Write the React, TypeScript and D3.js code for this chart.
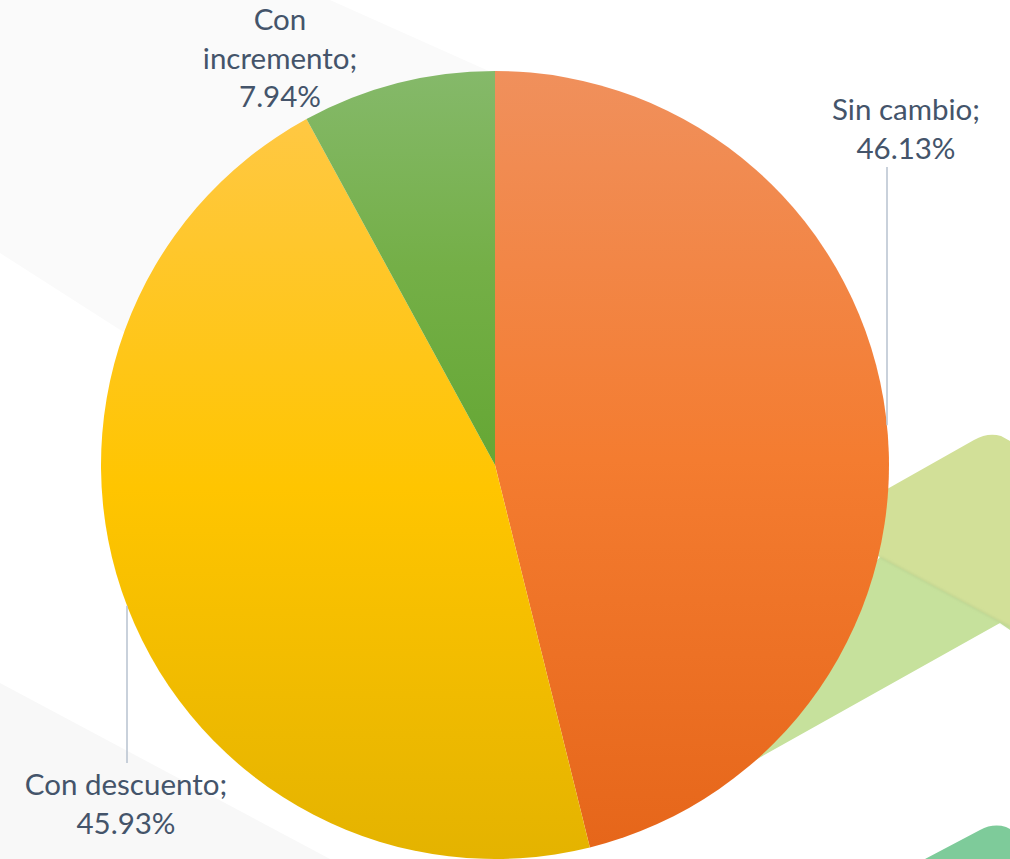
import React from "react";
import * as d3 from "d3";

const categories = ["Sin cambio", "Con descuento", "Con incremento"];
const values = [46.13, 45.93, 7.94];
const valueLabels = ["46.13%", "45.93%", "7.94%"];

const W = 1010;
const H = 859;
const CX = 495;
const CY = 465;
const R = 394;

const gradStops: Record<string, [string, string, string]> = {
  "Sin cambio": ["#F0905C", "#F47C30", "#E6661A"],
  "Con descuento": ["#FFC843", "#FFC500", "#E4B300"],
  "Con incremento": ["#85B96A", "#74AF47", "#65A734"],
};

// label layout (centre x, first baseline) and leader x
const labelLayout: Record<string, { x: number; y: number; lines: string[]; leaderX?: number; leaderTo?: number }> = {
  "Sin cambio": { x: 906, y: 120, lines: ["Sin cambio;"], leaderX: 887, leaderTo: 167 },
  "Con descuento": { x: 126, y: 795, lines: ["Con descuento;"], leaderX: 127, leaderTo: 763 },
  "Con incremento": { x: 280, y: 30, lines: ["Con", "incremento;"] },
};

export default function App() {
  const pie = d3
    .pie<number>()
    .sort(null)
    .value((d) => d)
    .startAngle(0)
    .endAngle(2 * Math.PI);
  const arcs = pie(values);
  const arc = d3.arc<d3.PieArcDatum<number>>().innerRadius(0).outerRadius(R);

  const font = "Lato, 'Open Sans', sans-serif";
  const fontSize = 29.5;
  const lineH = 38.5;

  return (
    <svg
      width={W}
      height={H}
      style={{ position: "absolute", left: 0, top: 0, display: "block" }}
    >
      <defs>
        {categories.map((c, i) => (
          <linearGradient key={c} id={`g${i}`} x1="0" y1="0" x2="0" y2="1">
            <stop offset="0%" stopColor={gradStops[c][0]} />
            <stop offset="50%" stopColor={gradStops[c][1]} />
            <stop offset="100%" stopColor={gradStops[c][2]} />
          </linearGradient>
        ))}
        <filter id="soft" x="-10%" y="-10%" width="120%" height="120%">
          <feGaussianBlur stdDeviation="1" />
        </filter>
      </defs>
      <rect width={W} height={H} fill="#ffffff" />
      {/* decorative background */}
      <polygon points="0,0 330,0 520,85 200,381 0,253" fill="#FAFAFA" />
      <polygon points="0,683 330,859 0,859" fill="#F8F8F8" />
      <polygon points="650,819 743,767 1000,623 1010,630 1010,540 880,557" fill="#C6E19C" />
      <path
        d="M850,510 L974,440 Q988,432 1001,436 L1010,441 L1010,627 L850,541 Z"
        fill="#D2E098"
      />
      <path d="M880,557 L1010,627" stroke="#B9CF8E" strokeWidth={2} opacity={0.6} filter="url(#soft)" />
      <path d="M925,859 L980,830 Q993,823 1006,827 L1010,829 L1010,859 Z" fill="#7ECB9A" />

      {/* pie */}
      <g transform={`translate(${CX},${CY})`}>
        {arcs.map((a, i) => (
          <path key={categories[i]} d={arc(a) || ""} fill={`url(#g${i})`} />
        ))}
      </g>

      {/* leader lines */}
      {categories.map((c) => {
        const l = labelLayout[c];
        if (l.leaderX === undefined || l.leaderTo === undefined) return null;
        const dx = l.leaderX - CX;
        const dy = Math.sqrt(Math.max(0, R * R - dx * dx));
        const yEdge = l.leaderTo > CY ? CY + dy : CY - dy;
        return (
          <line
            key={c}
            x1={l.leaderX}
            x2={l.leaderX}
            y1={yEdge}
            y2={l.leaderTo}
            stroke="#B7C2CF"
            strokeWidth={1.5}
          />
        );
      })}

      {/* labels */}
      {categories.map((c, i) => {
        const l = labelLayout[c];
        const lines = [...l.lines, valueLabels[i]];
        return (
          <text
            key={c}
            x={l.x}
            y={l.y}
            textAnchor="middle"
            fontFamily={font}
            fontSize={fontSize}
            fill="#44546A"
          >
            {lines.map((t, j) => (
              <tspan key={j} x={l.x} dy={j === 0 ? 0 : lineH}>
                {t}
              </tspan>
            ))}
          </text>
        );
      })}
    </svg>
  );
}
